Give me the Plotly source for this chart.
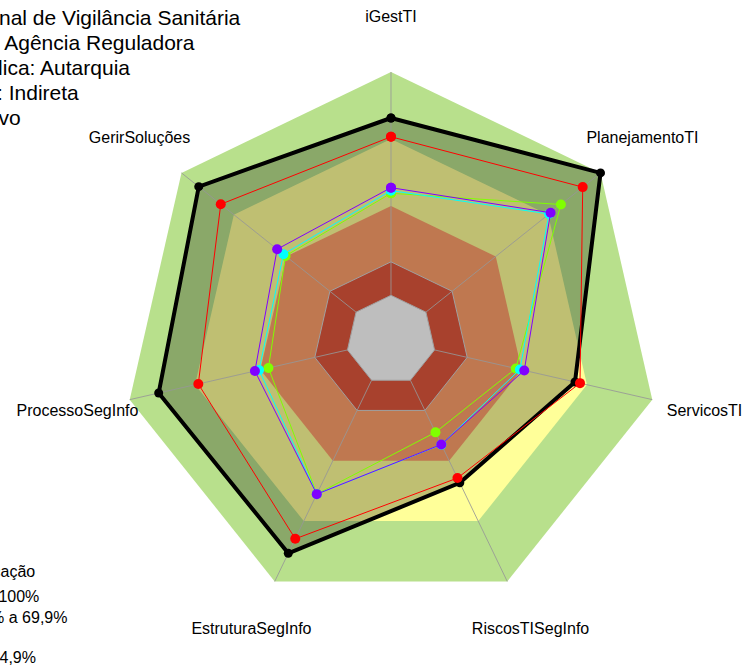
import plotly.graph_objects as go

W, H = 746, 668

categories = ["iGestTI", "PlanejamentoTI", "ServicosTI", "RiscosTISegInfo",
              "EstruturaSegInfo", "ProcessoSegInfo", "GerirSoluções"]

# classification bands (percent levels)
band_levels = [100, 70, 40, 15, 0]
band_colors = ["#B8E08C", "#FFFF99", "#BF7850", "#A8412D", "#BEBEBE"]

# series values (percent)
serie_preta = [79.4, 100, 64.5, 51.0, 86.0, 86.7, 90.1]
serie_vermelha = [71.0, 89.8, 66.8, 48.6, 78.8, 68.5, 77.5]
serie_verde = [45.7, 77.3, 37.3, 25.9, 56.5, 36.3, 40.4]
serie_ciano = [46.9, 70.5, 39.2, 32.0, 56.6, 40.6, 41.6]
serie_roxa = [48.2, 71.4, 41.2, 31.9, 56.6, 42.5, 45.2]

label_level = 124

info_lines = ["Organização: Agência Nacional de Vigilância Sanitária",
              "Segmento: Agência Reguladora",
              "Natureza Jurídica: Autarquia",
              "Administração: Indireta",
              "Poder: Executivo"]

legend_lines = ["Classificação",
                "Aprimorado: 70% a 100%",
                "Intermediário: 40% a 69,9%",
                "Inexpressivo: 0% a 14,9%"]


def closed(vals):
    return list(vals) + [vals[0]]


theta_c = closed(categories)

fig = go.Figure()


def band(level, color, line=None):
    fig.add_trace(go.Scatterpolar(
        r=closed([level] * len(categories)), theta=theta_c,
        mode="lines", fill="toself", fillcolor=color,
        line=line or dict(width=0, color=color),
        hoverinfo="skip", showlegend=False))


# outer bands
band(band_levels[0], band_colors[0])
band(band_levels[1], band_colors[1])

# black series translucent fill
fig.add_trace(go.Scatterpolar(
    r=closed(serie_preta), theta=theta_c, mode="lines", fill="toself",
    fillcolor="rgba(0,0,0,0.25)", line=dict(width=0, color="rgba(0,0,0,0)"),
    hoverinfo="skip", showlegend=False))

# inner bands
band(band_levels[2], band_colors[2])
band(band_levels[3], band_colors[3], dict(width=1, color="#A0A0A0"))
band(band_levels[4], band_colors[4], dict(width=1, color="#A0A0A0"))

# spokes
sr, st = [], []
for c in categories:
    sr += [band_levels[4], band_levels[0], None]
    st += [c, c, None]
fig.add_trace(go.Scatterpolar(r=sr, theta=st, mode="lines",
                              line=dict(width=1, color="rgba(150,150,150,0.85)"),
                              hoverinfo="skip", showlegend=False))

# series lines
fig.add_trace(go.Scatterpolar(
    r=closed(serie_preta), theta=theta_c, mode="lines+markers",
    line=dict(width=4, color="black"), marker=dict(size=9, color="black"),
    showlegend=False))
for vals, col in [(serie_vermelha, "#FF0000"), (serie_verde, "#80FF00"),
                  (serie_ciano, "#00FFFF"), (serie_roxa, "#8000FF")]:
    fig.add_trace(go.Scatterpolar(
        r=closed(vals), theta=theta_c, mode="lines+markers",
        line=dict(width=1, color=col), marker=dict(size=10, color=col),
        showlegend=False))

# axis labels at 1.2 x radius
fig.add_trace(go.Scatterpolar(
    r=[label_level] * len(categories), theta=categories, mode="text",
    text=categories, textposition="middle center", cliponaxis=False,
    textfont=dict(family="Liberation Sans, Arial", size=16, color="black"),
    hoverinfo="skip", showlegend=False))

rmin, rmax = -20, 125
cx, cy = 391, 340
R = 268 * (rmax - rmin) / (100 - rmin)
fig.update_layout(
    width=W, height=H, margin=dict(l=0, r=0, t=0, b=0),
    paper_bgcolor="white", plot_bgcolor="white", showlegend=False,
    polar=dict(
        domain=dict(x=[(cx - R) / W, (cx + R) / W],
                    y=[1 - (cy + R) / H, 1 - (cy - R) / H]),
        gridshape="linear", bgcolor="rgba(0,0,0,0)",
        radialaxis=dict(range=[rmin, rmax], visible=False, showgrid=False),
        angularaxis=dict(type="category", categoryarray=categories,
                         direction="clockwise", rotation=90,
                         showticklabels=False, showgrid=False,
                         showline=False, ticks=""),
    ),
)

anns = []
info_ends = [243, 197, 132, 81, 23]
info_y = [17.5, 42.5, 67.5, 92.5, 117.5]
for t, xe, yc in zip(info_lines, info_ends, info_y):
    anns.append(dict(text=t, x=xe / W, y=1 - yc / H, xref="paper", yref="paper",
                     xanchor="right", yanchor="middle", showarrow=False,
                     font=dict(family="Liberation Sans, Arial", size=21, color="black")))
leg_ends = [37, 41, 69, 38]
leg_y = [571, 596, 617, 657]
for t, xe, yc in zip(legend_lines, leg_ends, leg_y):
    anns.append(dict(text=t, x=xe / W, y=1 - yc / H, xref="paper", yref="paper",
                     xanchor="right", yanchor="middle", showarrow=False,
                     font=dict(family="Liberation Sans, Arial", size=16, color="black")))
fig.update_layout(annotations=anns)

fig.write_html("out.html", config={"displayModeBar": False},
               post_script="document.body.style.margin='0px';document.body.style.overflow='hidden';")
